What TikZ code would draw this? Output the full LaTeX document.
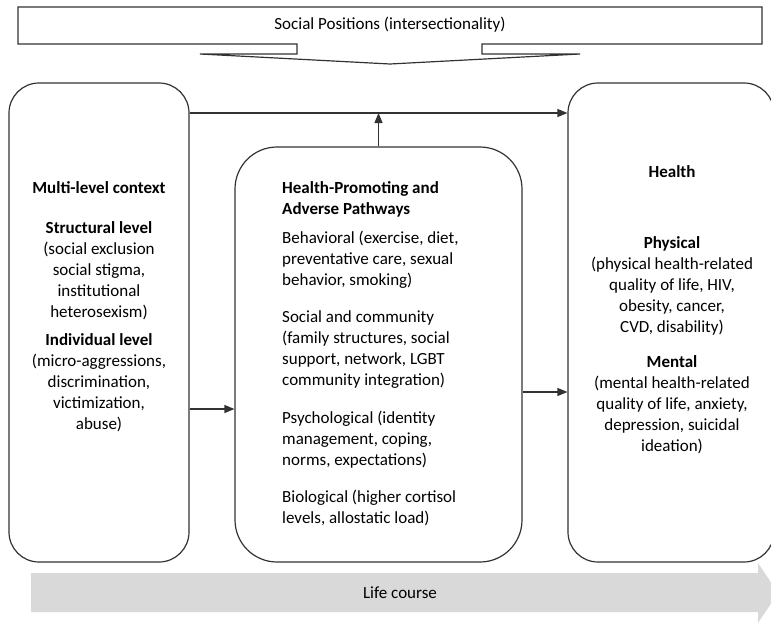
\documentclass[tikz,border=0pt]{standalone}
\usepackage{fontspec}
\setmainfont{Carlito}
\usetikzlibrary{arrows.meta}
\definecolor{lcgray}{RGB}{217,217,217}
\definecolor{linec}{RGB}{50,50,50}
\begin{document}
\begin{tikzpicture}[x=1pt,y=-1pt,
  box/.style={draw=linec, line width=1.2pt, inner sep=0pt},
  txt/.style={font=\fontsize{17}{21}\selectfont, inner sep=0pt, align=center, anchor=north},
  ltxt/.style={font=\fontsize{17}{21}\selectfont, inner sep=0pt, align=left, anchor=north west},
  conn/.style={draw=linec, line width=1.2pt, -{Triangle[length=10pt,width=8pt]}}
]
\useasboundingbox (0,0) rectangle (771,627);

% life course arrow
\fill[lcgray] (31,573) -- (758,573) -- (758,563) -- (778,593) -- (758,623) -- (758,612) -- (31,612) -- cycle;
\node[txt, anchor=center] (LC) at (400,593) {Life course};

% banner
\draw[linec, line width=1.2pt, line join=miter] (18,7) -- (762,7) -- (762,44) -- (482,44) -- (482,54) -- (580,54) -- (390,64) -- (200,54) -- (297,54) -- (297,44) -- (18,44) -- cycle;
\node[txt, anchor=center] (SP) at (390,25) {Social Positions (intersectionality)};

% boxes
\node[box, rounded corners=30pt, minimum width=180pt, minimum height=479pt] (L) at (99,322.5) {};
\node[box, rounded corners=42pt, minimum width=287pt, minimum height=415pt] (M) at (378.5,354.5) {};
\node[box, rounded corners=30pt, minimum width=206pt, minimum height=479pt] (R) at (671,322.5) {};

% connectors
\coordinate (topy) at (0,113);
\coordinate (ly) at (0,409);
\coordinate (ry) at (0,392);
\draw[conn] (L.east |- topy) -- (R.west |- topy);
\draw[conn] (M.north) -- (M.north |- topy);
\draw[conn] (L.east |- ly) -- (M.west |- ly);
\draw[conn] (M.east |- ry) -- (R.west |- ry);

% left texts
\node[txt] (l1) at (99,179) {\strut\textbf{Multi-level context}};
\node[txt] (l2) at (99,219) {\strut\textbf{Structural level}\\(social exclusion\\social stigma,\\institutional\\heterosexism)};
\node[txt] (l3) at (99,331) {\strut\textbf{Individual level}\\(micro-aggressions,\\discrimination,\\victimization,\\abuse)};

% middle texts
\node[ltxt] (m1) at (282,179) {\strut\textbf{Health-Promoting and}\\\textbf{Adverse Pathways}};
\node[ltxt] (m2) at (282,229) {\strut Behavioral (exercise, diet,\\preventative care, sexual\\behavior, smoking)};
\node[ltxt] (m3) at (282,308) {\strut Social and community\\(family structures, social\\support, network, LGBT\\community integration)};
\node[ltxt] (m4) at (282,409) {\strut Psychological (identity\\management, coping,\\norms, expectations)};
\node[ltxt] (m5) at (282,488) {\strut Biological (higher cortisol\\levels, allostatic load)};

% right texts
\node[txt] (r1) at (672,163) {\strut\textbf{Health}};
\node[txt] (r2) at (672,234) {\strut\textbf{Physical}\\(physical health-related\\quality of life, HIV,\\obesity, cancer,\\CVD, disability)};
\node[txt] (r3) at (672,353) {\strut\textbf{Mental}\\(mental health-related\\quality of life, anxiety,\\depression, suicidal\\ideation)};
\end{tikzpicture}
\end{document}
